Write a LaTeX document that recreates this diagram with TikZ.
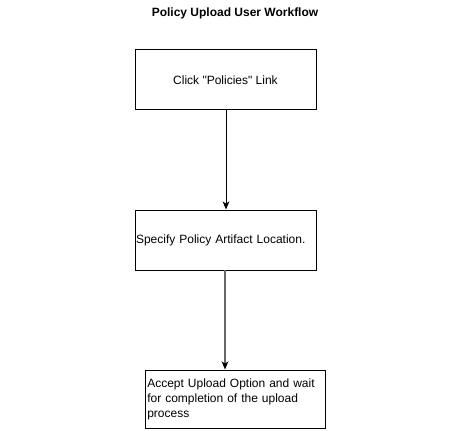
\documentclass[tikz,border=0pt]{standalone}
\usepackage{fontspec}
\setmainfont{Liberation Sans}[Ligatures=TeXOff]
\usetikzlibrary{arrows.meta}
\begin{document}
\begin{tikzpicture}[x=0.75pt,y=-0.75pt,
  stepbox/.style={draw=black,line width=0.75pt,fill=white,inner sep=0pt,font=\fontsize{9}{11.25}\selectfont},
  flow/.style={line width=0.75pt,-{Stealth[length=6pt,width=5pt,inset=1.5pt]}}]
\useasboundingbox (0,0) rectangle (471,431);
\node[font=\bfseries\fontsize{9}{11}\selectfont] (title) at (235,13) {Policy Upload User Workflow};
\node[stepbox,minimum width=181*0.75pt,minimum height=60*0.75pt] (b1) at (225.5,80) {Click "Policies" Link};
\node[stepbox,minimum width=181*0.75pt,minimum height=60*0.75pt,text width=179*0.75pt,align=left] (b2) at (225.5,240) {Specify Policy Artifact Location.};
\node[stepbox,minimum width=180*0.75pt,minimum height=58*0.75pt] (b3) at (235,399) {};
\node[anchor=north west,inner sep=0pt,font=\fontsize{9}{11.25}\selectfont,text width=176*0.75pt,align=left] (t3) at (147,379) {Accept Upload Option and wait for completion of the upload process};
\draw[flow] (226,110) coordinate (s1) -- (b2.north -| s1);
\coordinate (s2) at (225,270);
\draw[flow,line width=0.9pt,draw=gray!80!black,-{Stealth[length=6pt,width=5pt,inset=1.5pt,color=black]}] (s2) -- (s2 |- b3.north);
\end{tikzpicture}
\end{document}
